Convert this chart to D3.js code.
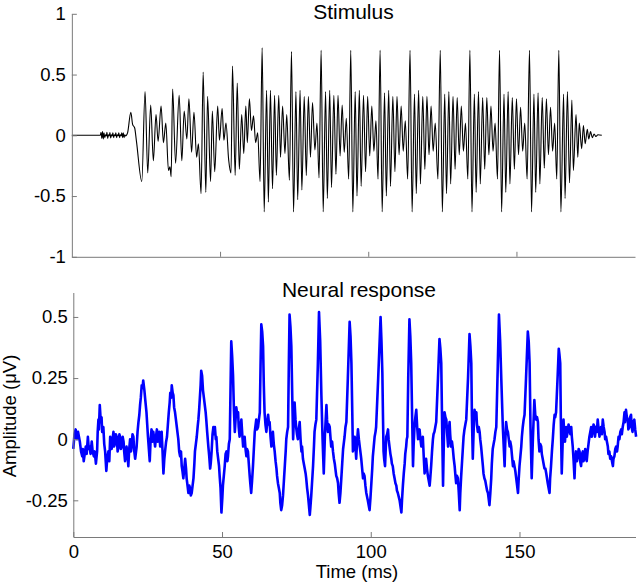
<!DOCTYPE html>
<html><head><meta charset="utf-8">
<script src="https://cdn.jsdelivr.net/npm/d3@7"></script>
<style>
body{margin:0;background:#fff}
svg{display:block}
text{font-family:"Liberation Sans",Arial,Helvetica,sans-serif}
</style>
</head><body>
<svg id="chart" width="640" height="586"></svg>
<script>
// ---------- data ----------
const timeTicks = [0, 50, 100, 150];
const timeLabels = ["0", "50", "100", "150"];
const stimYTicks = [-1, -0.5, 0, 0.5, 1];
const stimYLabels = ["-1", "-0.5", "0", "0.5", "1"];
const respYTicks = [-0.25, 0, 0.25, 0.5];
const respYLabels = ["-0.25", "0", "0.25", "0.5"];

// stimulus [time ms, amplitude] : silence + burst
const stimOnset = [
 [0,0],[9.5,0],[9.6,0],[9.85,0.025],[10.1,-0.025],[10.35,0.03],[10.6,-0.03],[10.85,0.02],[11.1,-0.02],[11.35,0.005],[11.6,-0.005],
 [11.85,0.025],[12.1,-0.025],[12.35,0.005],[12.6,-0.005],[12.85,0.022],[13.1,-0.022],[13.35,0.005],[13.6,-0.005],[13.85,0.02],
 [14.1,-0.02],[14.35,0.004],[14.6,-0.004],[14.85,0.02],[15.1,-0.02],[15.35,0.004],[15.6,-0.004],[15.85,0.02],[16.1,-0.02],
 [16.35,0.004],[16.6,-0.004],[16.85,0.02],[17.1,-0.02],[17.35,0.02],[17.6,-0.02],[17.85,0.005],[18.1,-0.005],[18.4,0],
 [18.8,0.02],[19.9,0.19],[20.5,0.09],[21.2,0.06],[21.8,-0.05],[23.6,-0.38],
 [24.7,0.36],[25.6,-0.31],[26.6,0.25],[27.5,-0.21],[28.4,0.17],[29.1,-0.05],[30.1,0.24],[30.9,-0.06],[31.7,0.10],[32.6,-0.29],
 [33.1,-0.26],[33.5,-0.34],[34.0,0.38],[35.0,-0.23],[36.2,0.33],[37.1,-0.21],[37.9,0.20],[38.8,-0.03],[39.5,0.30],[40.4,-0.14],
 [41.2,0.19],[42.1,-0.18],[42.7,-0.07],[43.6,-0.48],[44.3,0.52],[45.2,-0.47],[45.8,0.32],[46.8,-0.38],[47.4,0.20],[48.2,-0.30],
 [49.2,0.24],[49.8,-0.04],[50.7,0.22],[51.3,-0.04],[52.0,0.10],[52.9,-0.20],[53.7,-0.31],[54.2,0.57],[55.1,-0.33],[55.8,0.43],
 [56.5,-0.28],[57.3,0.17],[58.0,-0.15],[58.7,0.24],[59.2,-0.06],[59.9,0.30],[60.6,0.04],[61.3,0.16],[62.0,-0.06],[62.7,0.02],[63.5,-0.38]
];
// stimulus: steady voiced part (pitch periods)
const stimVoiced = [
 [64.2,0.72],[64.9,-0.63],[65.7,0.37],[66.3,-0.55],[67.0,0.37],[67.7,-0.44],[68.4,0.33],[69.0,-0.33],[69.8,0.33],[70.4,-0.18],[71.1,0.24],[71.9,-0.15],[72.5,0.17],[73.4,-0.37],
 [74.1,0.69],[74.8,-0.63],[75.6,0.36],[76.2,-0.53],[77.0,0.37],[77.6,-0.45],[78.4,0.32],[79.1,-0.33],[79.8,0.32],[80.5,-0.18],[81.2,0.27],[82.0,-0.12],[82.7,0.10],[83.4,-0.35],
 [84.1,0.70],[84.8,-0.63],[85.6,0.36],[86.2,-0.52],[87.0,0.37],[87.6,-0.43],[88.4,0.33],[89.1,-0.32],[89.8,0.33],[90.5,-0.17],[91.2,0.25],[91.9,-0.14],[92.6,0.14],[93.4,-0.36],
 [94.1,0.70],[94.8,-0.63],[95.6,0.36],[96.2,-0.50],[97.0,0.37],[97.6,-0.42],[98.4,0.33],[99.1,-0.30],[99.8,0.32],[100.5,-0.17],[101.2,0.24],[101.9,-0.13],[102.6,0.12],[103.3,-0.36],
 [104.0,0.70],[104.7,-0.63],[105.5,0.35],[106.1,-0.50],[106.9,0.37],[107.5,-0.42],[108.3,0.32],[109.0,-0.30],[109.7,0.32],[110.4,-0.16],[111.1,0.24],[111.8,-0.13],[112.5,0.12],[113.3,-0.36],
 [114.1,0.70],[114.8,-0.63],[115.6,0.34],[116.2,-0.48],[117.0,0.37],[117.6,-0.40],[118.4,0.32],[119.1,-0.28],[119.8,0.32],[120.5,-0.16],[121.2,0.24],[121.9,-0.13],[122.6,0.10],[123.5,-0.36],
 [124.3,0.70],[125.0,-0.63],[125.8,0.34],[126.4,-0.48],[127.2,0.36],[127.8,-0.40],[128.6,0.32],[129.3,-0.28],[130.0,0.31],[130.7,-0.16],[131.4,0.24],[132.1,-0.13],[132.8,0.10],[133.6,-0.36],
 [134.3,0.70],[135.0,-0.63],[135.8,0.34],[136.4,-0.47],[137.2,0.36],[137.8,-0.40],[138.6,0.31],[139.3,-0.28],[140.0,0.31],[140.7,-0.16],[141.4,0.24],[142.1,-0.13],[142.8,0.10],[143.6,-0.36],
 [144.3,0.70],[145.0,-0.63],[145.8,0.34],[146.4,-0.47],[147.2,0.36],[147.8,-0.40],[148.6,0.31],[149.3,-0.28],[150.0,0.30],[150.7,-0.16],[151.4,0.23],[152.1,-0.13],[152.8,0.10],[153.6,-0.36],
 [154.4,0.70],[155.1,-0.63],[155.9,0.34],[156.5,-0.47],[157.3,0.35],[157.9,-0.40],[158.7,0.31],[159.4,-0.27],[160.1,0.30],[160.8,-0.16],[161.5,0.23],[162.2,-0.13],[162.9,0.10],[163.6,-0.36]
];
// stimulus: last period and decay
const stimOffset = [
 [164.3,0.70],[165.0,-0.63],[165.9,0.34],[166.4,-0.52],[167.2,0.36],[167.9,-0.39],[168.7,0.29],[169.2,-0.29],[170.1,0.17],[170.7,-0.18],
 [171.2,0.10],[172.0,-0.11],[172.6,0.08],[173.2,-0.07],[173.9,0.05],[174.4,-0.03],[175.0,0.03],[175.6,-0.02],[176.2,0.01],[176.8,-0.01],[177.5,0.005],[178.8,0]
];
// neural response [time ms, amplitude µV]
const response = [
 [0,-0.04],[0.4,0.02],[0.8,0.04],[1.2,0.0],[1.6,0.03],[2.2,-0.01],[2.6,-0.05],[3.0,-0.07],[3.2,-0.04],[3.5,-0.09],[4.2,-0.03],[4.5,-0.06],[4.9,0.01],[5.2,-0.04],[5.5,-0.03],[5.8,-0.06],[6.2,-0.01],[6.5,-0.05],[6.9,-0.07],[7.2,-0.05],[7.6,-0.10],
 [8.0,-0.05],[8.2,0.03],[8.45,0.08],[8.6,0.04],[8.9,0.14],[9.25,0.07],[9.5,0.09],[9.7,0.03],[10.1,0.05],[10.4,-0.02],[10.7,-0.05],[11.1,-0.13],[11.4,-0.08],[11.8,-0.05],[12.1,-0.09],[12.4,0.01],[12.9,-0.04],
 [13.2,0.0],[13.5,0.03],[13.7,-0.03],[14.0,-0.02],[14.3,0.02],[14.6,0.01],[14.9,-0.05],[15.2,-0.03],[15.5,0.02],[15.7,0.01],[16.0,-0.04],[16.3,-0.03],[16.6,0.01],[16.9,-0.01],[17.1,-0.05],[17.4,-0.09],[17.9,-0.03],[18.2,-0.06],[18.5,-0.11],[18.8,-0.04],[19.1,0.0],
 [19.4,-0.05],[19.6,-0.03],[19.9,0.02],[20.2,0.01],[20.5,-0.05],[20.8,-0.08],[21.3,-0.03],[21.6,0.03],[21.9,0.07],[22.2,0.10],[22.45,0.14],[22.7,0.17],[23.0,0.22],[23.3,0.21],[23.5,0.24],[23.9,0.20],[24.2,0.16],[24.6,0.11],[25.1,0.01],
 [25.4,-0.04],[25.7,-0.09],[26.0,0.0],[26.3,0.04],[26.6,-0.01],[26.9,0.03],[27.2,0.0],[27.5,-0.03],[27.8,0.01],[28.1,0.04],[28.4,-0.01],[28.6,0.01],[28.9,0.03],[29.2,-0.03],[29.5,0.01],[29.7,0.03],[30.0,-0.05],[30.3,-0.14],[30.6,-0.08],[30.85,-0.05],[31.2,-0.01],[31.5,0.01],
 [31.8,0.06],[32.1,0.11],[32.4,0.15],[32.6,0.19],[32.9,0.17],[33.1,0.22],[33.4,0.19],[33.65,0.18],[33.9,0.13],[34.2,0.11],[34.5,0.08],[34.8,0.05],[35.1,0.02],[35.3,0.0],[35.6,-0.05],[35.9,-0.07],[36.2,-0.05],[36.45,-0.11],[36.7,-0.13],[37.0,-0.16],[37.3,-0.12],[37.6,-0.08],
 [37.9,-0.12],[38.1,-0.16],[38.4,-0.19],[38.7,-0.22],[39.0,-0.19],[39.25,-0.20],[39.5,-0.23],[39.8,-0.22],[40.1,-0.19],[40.4,-0.16],[40.7,-0.10],[40.9,-0.05],[41.2,-0.02],[41.5,0.01],[41.8,0.05],[42.05,0.08],[42.3,0.12],[42.6,0.18],[42.8,0.22],[43.0,0.28],[43.3,0.26],[43.6,0.20],
 [43.9,0.17],[44.2,0.14],[44.5,0.11],[44.7,0.08],[45.0,0.03],[45.4,-0.03],[45.7,-0.07],[46.0,-0.12],[46.2,-0.10],[46.5,-0.05],[46.8,0.02],[47.1,0.05],[47.3,0.02],[47.6,0.05],[47.9,0.0],[48.1,0.01],[48.4,-0.05],[48.7,-0.08],[49.0,-0.11],[49.2,-0.15],[49.5,-0.2],[49.8,-0.30],
 [50.1,-0.24],[50.3,-0.19],[50.6,-0.15],[50.9,-0.11],[51.2,-0.06],[51.5,-0.05],[51.8,-0.09],[52.0,-0.07],[52.3,-0.02],[52.6,0.0],[52.85,0.2],[53.1,0.40],[53.4,0.34],[53.7,0.26],[54.0,0.12],[54.3,0.03],[54.55,0.08],[54.8,0.13],[55.1,0.1],[55.4,0.11],[55.6,0.05],[55.9,0.01],
 [56.2,0.05],[56.5,0.08],[56.8,0.02],[57.1,-0.03],[57.3,0.0],[57.6,0.01],[57.9,-0.04],[58.2,-0.07],[58.4,-0.04],[58.7,-0.05],[59.0,-0.1],[59.3,-0.15],[59.5,-0.18],[59.8,-0.22],[60.1,-0.17],[60.4,-0.11],[60.7,-0.04],[61.0,0.03],[61.2,0.05],[61.5,0.08],[61.8,0.04],[62.1,0.05],
 [62.4,0.08],[62.7,0.11],[62.95,0.3],[63.2,0.47],[63.5,0.44],[63.8,0.38],[64.05,0.22],[64.3,0.11],[64.6,0.06],[64.9,0.03],[65.2,0.07],[65.5,0.10],[65.8,0.06],[66.0,0.07],[66.3,0.01],[66.6,-0.03],[66.9,0.01],[67.1,0.03],[67.4,-0.02],[67.7,-0.05],[68.0,-0.09],[68.3,-0.12],
 [68.5,-0.15],[68.8,-0.18],[69.1,-0.2],[69.4,-0.22],[69.6,-0.26],[69.9,-0.29],[70.2,-0.27],[70.5,-0.23],[70.8,-0.17],[71.1,-0.11],[71.4,-0.05],[71.6,0.0],[71.9,0.03],[72.2,0.05],[72.45,0.3],[72.7,0.51],[73.0,0.46],[73.3,0.38],[73.6,0.18],[73.9,0.0],[74.15,0.08],[74.4,0.15],
 [74.7,0.08],[75.0,0.04],[75.2,0.02],[75.5,0.0],[75.8,0.04],[76.1,0.07],[76.4,0.0],[76.7,-0.05],[76.9,-0.03],[77.2,-0.08],[77.5,-0.1],[77.8,-0.12],[78.1,-0.14],[78.3,-0.16],[78.6,-0.2],[78.9,-0.23],[79.2,-0.27],[79.5,-0.31],[79.7,-0.28],[80.0,-0.23],[80.3,-0.17],[80.6,-0.11],
 [80.9,-0.03],[81.1,0.03],[81.4,0.06],[81.7,0.08],[82.2,0.3],[82.6,0.52],[83.0,0.4],[83.4,0.18],[83.8,0.0],[84.2,-0.14],[84.6,0.02],[85.1,0.14],[85.3,0.08],[85.6,0.03],[85.9,0.06],[86.2,0.05],[86.5,0.0],[86.7,-0.03],[87.0,-0.01],[87.3,-0.05],[87.6,-0.08],[87.9,-0.10],
 [88.1,-0.12],[88.4,-0.15],[88.7,-0.16],[89.0,-0.18],[89.2,-0.22],[89.5,-0.26],[89.8,-0.22],[90.1,-0.16],[90.4,-0.1],[90.7,-0.04],[91.0,-0.01],[91.2,0.01],[91.5,0.05],[91.8,0.07],[92.3,0.25],[92.9,0.48],[93.2,0.42],[93.5,0.31],[93.8,0.1],[94.0,-0.05],[94.3,-0.02],[94.6,0.01],
 [94.9,-0.04],[95.1,-0.08],[95.4,-0.01],[95.7,0.04],[96.0,0.0],[96.3,-0.03],[96.5,-0.05],[96.8,-0.08],[97.1,-0.12],[97.4,-0.16],[97.6,-0.14],[97.9,-0.15],[98.2,-0.19],[98.5,-0.22],[99.0,-0.25],[99.6,-0.29],[99.9,-0.24],[100.2,-0.18],[100.5,-0.12],[100.7,-0.07],
 [101.0,-0.03],[101.3,0.01],[101.6,0.03],[101.8,0.05],[102.5,0.25],[103.3,0.50],[103.6,0.4],[103.9,0.27],[104.1,0.1],[104.3,-0.05],[104.5,-0.08],[104.8,-0.11],[105.0,-0.05],[105.2,0.01],[105.5,0.02],[105.8,0.04],[106.0,0.0],[106.3,-0.03],[106.6,-0.06],[106.9,-0.08],
 [107.1,-0.1],[107.4,-0.11],[107.7,-0.14],[108.0,-0.16],[108.3,-0.18],[108.6,-0.19],[108.8,-0.21],[109.1,-0.22],[109.7,-0.25],[110.3,-0.30],[110.5,-0.25],[110.8,-0.19],[111.1,-0.14],[111.4,-0.10],[111.6,-0.06],[111.9,-0.03],[112.1,0.0],[112.3,0.01],[112.6,0.25],
 [113.0,0.49],[113.3,0.42],[113.6,0.31],[113.9,0.1],[114.2,-0.11],[114.4,-0.03],[114.7,0.05],[115.0,0.09],[115.3,0.12],[115.6,0.05],[115.9,0.0],[116.1,0.02],[116.4,0.04],[116.7,0.0],[117.0,-0.03],[117.2,-0.01],[117.5,0.01],[117.8,-0.07],[118.1,-0.14],
 [118.3,-0.11],[118.6,-0.08],[118.9,-0.12],[119.2,-0.15],[119.5,-0.17],[119.8,-0.19],[120.0,-0.16],[120.3,-0.11],[120.6,-0.05],[120.9,0.0],[121.1,0.02],[121.4,0.03],[121.7,0.05],[122.0,0.07],[122.6,0.25],[123.1,0.41],[123.4,0.37],[123.7,0.31],[124.0,0.05],[124.3,-0.19],
 [124.5,-0.05],[124.8,0.11],[125.1,0.09],[125.4,0.08],[125.7,0.02],[126.0,-0.03],[126.2,0.03],[126.5,0.07],[126.7,0.02],[127.0,-0.03],[127.3,-0.01],[127.6,-0.04],[127.9,-0.08],[128.2,-0.11],[128.4,-0.14],[128.7,-0.18],[129.0,-0.15],[129.3,-0.16],[129.6,-0.22],[129.9,-0.29],
 [130.1,-0.22],[130.4,-0.15],[130.7,-0.09],[131.0,-0.03],[131.2,0.01],[131.5,0.04],[131.8,0.06],[132.1,0.08],[132.7,0.25],[133.2,0.43],[133.5,0.38],[133.8,0.31],[134.0,0.1],[134.3,-0.08],[134.6,0.04],[134.9,0.12],[135.2,0.09],[135.5,0.11],[135.7,0.06],[136.0,0.03],
 [136.3,0.05],[136.6,0.03],[136.8,0.0],[137.1,-0.03],[137.4,-0.07],[137.7,-0.11],[137.9,-0.14],[138.2,-0.16],[138.5,-0.17],[138.8,-0.19],[139.1,-0.21],[139.4,-0.22],[139.6,-0.24],[139.9,-0.27],[140.2,-0.22],[140.5,-0.16],[140.7,-0.1],[141.0,-0.04],[141.3,-0.02],[141.6,0.0],
 [141.9,0.03],[142.2,0.05],[142.7,0.3],[143.1,0.51],[143.5,0.4],[143.9,0.24],[144.4,0.05],[145.0,-0.11],[145.2,-0.02],[145.5,0.07],[145.8,0.04],[146.1,0.03],[146.4,0.0],[146.7,-0.03],[146.9,-0.01],[147.2,-0.03],[147.5,-0.07],[147.8,-0.11],[148.0,-0.09],[148.3,-0.11],
 [148.6,-0.13],[148.9,-0.16],[149.2,-0.19],[149.5,-0.22],[149.7,-0.17],[150.0,-0.11],[150.3,-0.07],[150.6,-0.03],[150.8,0.01],[151.1,0.05],[151.4,0.08],[151.7,0.10],[152.2,0.25],[152.8,0.44],[153.1,0.4],[153.4,0.31],[153.7,0.05],[154.1,-0.16],[154.5,0.0],[155.0,0.16],
 [155.3,0.1],[155.6,0.08],[155.9,0.09],[156.2,0.07],[156.4,0.0],[156.7,-0.05],[157.0,-0.02],[157.3,-0.03],[157.5,-0.06],[157.8,-0.08],[158.1,-0.1],[158.4,-0.12],[158.7,-0.12],[159.0,-0.14],[159.5,-0.18],[160.1,-0.22],[160.3,-0.16],[160.6,-0.11],[160.9,-0.05],[161.2,0.0],
 [161.5,0.06],[161.8,0.10],[162.0,0.09],[162.3,0.11],[162.8,0.25],[163.2,0.37],[163.4,0.35],[163.7,0.31],[163.9,0.08],[164.2,-0.14],[164.5,-0.02],[164.8,0.08],[165.0,0.03],[165.3,-0.01],[165.5,0.04],[165.7,0.05],[165.9,0.01],[166.2,0.03],[166.5,0.06],[166.8,0.04],
 [167.1,0.02],[167.4,0.05],[167.6,0.01],[167.9,-0.03],[168.2,-0.09],[168.5,-0.16],[168.7,-0.09],[169.0,-0.05],[169.3,-0.09],[169.6,-0.07],[169.9,-0.04],[170.2,-0.05],[170.4,-0.09],[170.7,-0.11],[171.0,-0.06],[171.3,-0.05],[171.5,-0.09],[171.8,-0.08],[172.1,-0.04],[172.4,-0.07],
 [172.6,-0.09],[172.9,-0.05],[173.2,-0.02],[173.5,0.01],[173.8,0.03],[174.1,0.05],[174.3,0.01],[174.6,0.03],[174.9,0.06],[175.2,0.05],[175.4,0.01],[175.7,0.05],[176.0,0.03],[176.3,0.08],[176.6,0.04],[176.9,0.01],[177.1,0.04],[177.4,0.05],[177.7,0.02],[178.0,0.08],
 [178.3,0.05],[178.6,0.03],[178.8,0.0],[179.1,0.01],[179.4,-0.01],[179.7,-0.03],[179.9,-0.06],[180.2,-0.05],[180.5,-0.08],[180.8,-0.07],[181.1,-0.09],[181.4,-0.11],[181.6,-0.08],[181.9,-0.07],[182.2,-0.04],[182.5,-0.03],[182.8,-0.05],[183.0,-0.03],[183.3,0.01],[183.6,0.0],
 [183.9,0.03],[184.2,0.04],[184.4,0.02],[184.7,0.05],[185.0,0.07],[185.3,0.11],[185.5,0.07],[185.8,0.12],[186.1,0.09],[186.4,0.08],[186.6,0.04],[186.9,0.05],[187.2,0.09],[187.5,0.10],[187.7,0.05],[188.0,0.03],[188.3,0.07],[188.6,0.08],[188.9,0.04],[189.2,0.01]
];

// ---------- drawing ----------
const svg = d3.select("#chart");
const FONT = '"Liberation Sans", Arial, Helvetica, sans-serif';
const AXIS_COLOR = "#7a7a7a";

const xTop = d3.scaleLinear().domain([0, 190]).range([71.85, 635]);
const yTop = d3.scaleLinear().domain([-1, 1]).range([256.8, 13.8]);
const xBot = d3.scaleLinear().domain([0, 189]).range([73.3, 635.5]);
const yBot = d3.scaleLinear().domain([-0.4, 0.6]).range([537, 292.5]);

const stimulus = stimOnset.concat(stimVoiced, stimOffset);

svg.append("path")
  .datum(stimulus)
  .attr("fill", "none")
  .attr("stroke", "#000")
  .attr("stroke-width", 1.1)
  .attr("d", d3.line().x(d => xTop(d[0])).y(d => yTop(d[1])).curve(d3.curveMonotoneX));

svg.append("path")
  .datum(response)
  .attr("fill", "none")
  .attr("stroke", "#0000ff")
  .attr("stroke-width", 2.6)
  .attr("stroke-linejoin", "round")
  .attr("d", d3.line().x(d => xBot(d[0])).y(d => yBot(d[1])));

function styleAxis(g, fs) {
  g.attr("font-family", FONT).attr("font-size", fs);
  g.select(".domain").attr("stroke", AXIS_COLOR);
  g.selectAll(".tick line").attr("stroke", AXIS_COLOR);
  g.selectAll(".tick text").attr("fill", "#000");
}

// top panel axes
svg.append("g")
  .attr("transform", `translate(0,${yTop(-1)})`)
  .call(d3.axisBottom(xTop).tickValues([50, 100, 150]).tickFormat(() => "")
        .tickSizeInner(-5).tickSizeOuter(0))
  .call(g => styleAxis(g, 18));
svg.append("g")
  .attr("transform", `translate(${xTop(0)},0)`)
  .call(d3.axisLeft(yTop).tickValues(stimYTicks).tickFormat((d, i) => stimYLabels[i])
        .tickSizeInner(-5).tickSizeOuter(0).tickPadding(6))
  .call(g => styleAxis(g, 18.5));

// bottom panel axes
svg.append("g")
  .attr("transform", `translate(0,${yBot(-0.4)})`)
  .call(d3.axisBottom(xBot).tickValues(timeTicks).tickFormat((d, i) => timeLabels[i])
        .tickSizeInner(-5).tickSizeOuter(0).tickPadding(8))
  .call(g => styleAxis(g, 18.5));
svg.append("g")
  .attr("transform", `translate(${xBot(0)},0)`)
  .call(d3.axisLeft(yBot).tickValues(respYTicks).tickFormat((d, i) => respYLabels[i])
        .tickSizeInner(-5).tickSizeOuter(0).tickPadding(5.5))
  .call(g => styleAxis(g, 18.5));

// titles and labels
svg.append("text").attr("x", 353.4).attr("y", 19).attr("text-anchor", "middle")
  .attr("font-family", FONT).attr("font-size", 21).text("Stimulus");
svg.append("text").attr("x", 359).attr("y", 297).attr("text-anchor", "middle")
  .attr("font-family", FONT).attr("font-size", 21).text("Neural response");
svg.append("text").attr("x", 357).attr("y", 578).attr("text-anchor", "middle")
  .attr("font-family", FONT).attr("font-size", 18.5).text("Time (ms)");
svg.append("text").attr("transform", "translate(16,416) rotate(-90)").attr("text-anchor", "middle")
  .attr("font-family", FONT).attr("font-size", 18.5).text("Amplitude (μV)");
</script>
</body></html>
